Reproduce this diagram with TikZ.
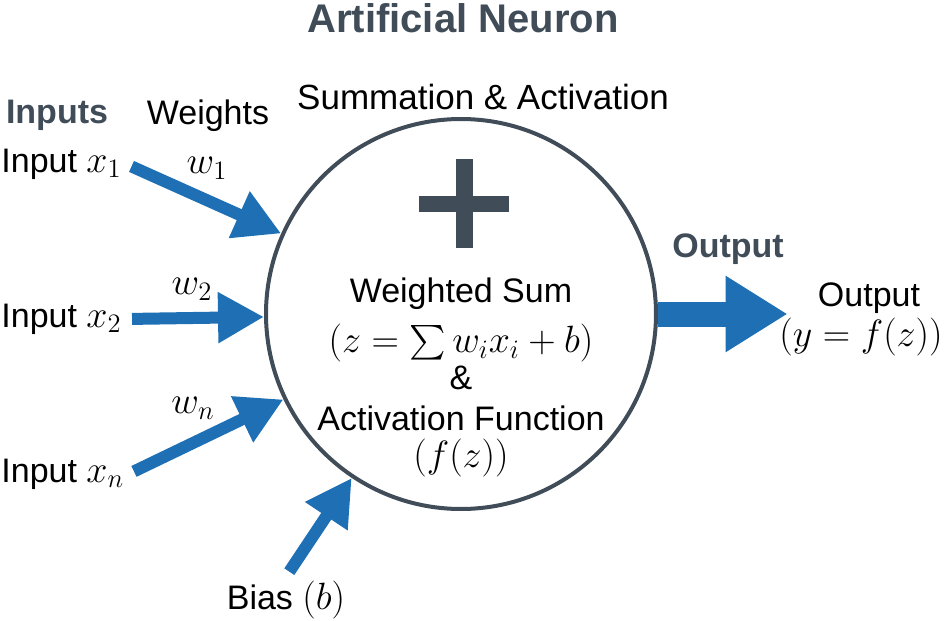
\RequirePackage{fix-cm}
\documentclass[tikz,border=0pt]{standalone}
\usepackage{amsmath}
\usepackage{fontspec}
\setmainfont{Liberation Sans}
\usetikzlibrary{arrows.meta}
\definecolor{arrowblue}{RGB}{31,111,180}
\definecolor{slate}{RGB}{64,76,87}
\newcommand{\mth}[1]{{\fontsize{19}{23}\selectfont$#1$}}
\tikzset{
  lbl/.style={font=\fontsize{17}{20}\selectfont, inner sep=2pt},
  heading/.style={font=\fontsize{17}{20}\selectfont\bfseries, text=slate, inner sep=2pt},
  inarrow/.style={draw=arrowblue, line width=6pt, -{Triangle[length=23pt,width=24pt]}},
  outarrow/.style={draw=arrowblue, line width=12.5pt, -{Triangle[length=31pt,width=36pt]}},
}
\begin{document}
\begin{tikzpicture}[x=0.5pt,y=-0.5pt]
\useasboundingbox (0,0) rectangle (944,621);

% Titles
\node[heading, font=\fontsize{20}{24}\selectfont\bfseries] (title) at (463,18) {Artificial Neuron};
\node[lbl, font=\fontsize{17.5}{21}\selectfont] (summ) at (483,97) {Summation \& Activation};
\node[heading] (inputs) at (57,115) {Inputs};
\node[lbl] (weights) at (208,116) {Weights};

% Neuron
\node[draw=slate, line width=2pt, circle, minimum size=195pt, inner sep=0pt] (neuron) at (461,314) {};
\fill[slate] (419,196) rectangle (509,212);
\fill[slate] (456,159) rectangle (473,248);
\node[lbl, inner sep=0pt] (wsum) at (461,294) {Weighted Sum};
\node[lbl, inner sep=0pt] (zeq) at (461,343) {\mth{(z=\textstyle\sum w_i x_i+b)}};
\node[lbl, inner sep=0pt] (amp) at (461,378) {\&};
\node[lbl, inner sep=0pt] (actfn) at (461,418) {Activation Function};
\node[lbl, inner sep=0pt] (fz) at (461,458) {\mth{(f(z))}};

% Inputs and weights
\node[lbl, anchor=west] (in1) at (-3,164) {Input \mth{x_1}};
\node[lbl] (w1) at (207,168) {\mth{w_1}};
\node[lbl, anchor=west] (in2) at (-3,319) {Input \mth{x_2}};
\node[lbl] (w2) at (192,289) {\mth{w_2}};
\node[lbl, anchor=west] (inn) at (-3,474) {Input \mth{x_n}};
\node[lbl] (wn) at (193,408) {\mth{w_n}};
\node[lbl] (bias) at (286,600) {Bias \mth{(b)}};

\draw[inarrow, shorten <=3pt] (in1.east) -- (neuron);
\draw[inarrow, shorten <=3pt] (in2.east) -- (neuron);
\draw[inarrow, shorten <=3pt] (inn.east) -- (neuron);
\draw[inarrow, shorten <=3pt] (bias.north) -- (neuron);

% Output
\node[heading] (outhead) at (728,249) {Output};
\node[lbl, inner sep=0pt] (outlbl) at (869,298) {Output};
\node[lbl, inner sep=0pt, anchor=east] (outeq) at (943,337) {\mth{(y=f(z))}};
\draw[outarrow, shorten >=15pt] (neuron.east) -- (neuron.east -| outlbl.west);
\end{tikzpicture}
\end{document}
